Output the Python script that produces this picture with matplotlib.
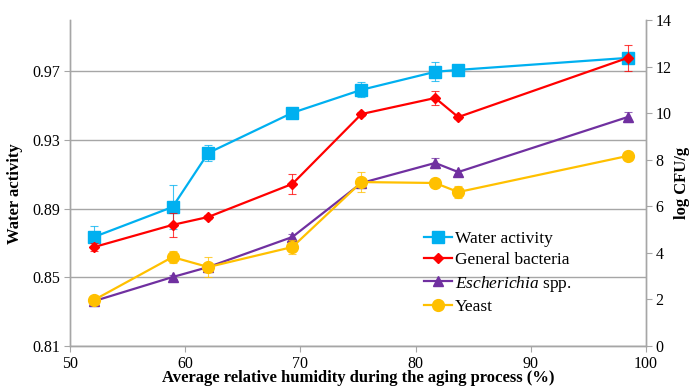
import numpy as np
import matplotlib
matplotlib.use("Agg")
import matplotlib.pyplot as plt

plt.rcParams['font.family'] = ['Liberation Serif', 'DejaVu Serif']
plt.rcParams['mathtext.fontset'] = 'custom'
plt.rcParams['mathtext.rm'] = 'Liberation Serif'
plt.rcParams['mathtext.it'] = 'Liberation Serif:italic'

# relative humidity during aging (%)
rh = np.array([52.1, 58.9, 62.0, 69.3, 75.3, 81.7, 83.7, 98.4])

# water activity (left axis)
aw = np.array([0.8736, 0.8910, 0.9225, 0.9459, 0.9593, 0.9698, 0.9709, 0.9779])
aw_err = np.array([0.0064, 0.0128, 0.0047, 0.0010, 0.0044, 0.0055, 0.0030, 0.0020])

# counts, log CFU/g (right axis)
bact = np.array([4.25, 5.20, 5.54, 6.96, 9.96, 10.65, 9.83, 12.37])
bact_err = np.array([0.17, 0.52, 0.08, 0.43, 0.08, 0.32, 0.08, 0.55])
esch = np.array([1.93, 2.96, 3.39, 4.68, 7.00, 7.86, 7.47, 9.83])
esch_err = np.array([0.05, 0.10, 0.10, 0.15, 0.10, 0.20, 0.10, 0.20])
yeast = np.array([1.98, 3.82, 3.39, 4.25, 7.04, 7.00, 6.61, 8.16])
yeast_err = np.array([0.05, 0.24, 0.42, 0.32, 0.43, 0.08, 0.26, 0.08])

c_aw = '#00B0F0'
c_bact = '#FF0000'
c_esch = '#7030A0'
c_yeast = '#FFC000'
grey = '#A6A6A6'

fig = plt.figure(figsize=(6.89, 3.90), dpi=100)
ax = fig.add_axes([0.1016, 0.1128, 0.836, 0.836])
ax2 = ax.twinx()

def series(a, y, e, col, mk, ms, label):
    a.errorbar(rh, y, yerr=e, fmt='none', ecolor=col, elinewidth=0.8,
               capsize=3, capthick=0.8, alpha=0.75)
    return a.plot(rh, y, color=col, marker=mk, markersize=ms, lw=1.6,
                  label=label)[0]

h1 = series(ax, aw, aw_err, c_aw, 's', 8, 'Water activity')
h2 = series(ax2, bact, bact_err, c_bact, 'D', 5, 'General bacteria')
h3 = series(ax2, esch, esch_err, c_esch, '^', 7, r'$\mathit{Escherichia}$ spp.')
h4 = series(ax2, yeast, yeast_err, c_yeast, 'o', 8.5, 'Yeast')

ax.set_xlim(50, 100)
ax.set_ylim(0.81, 1.0)
ax.set_yticks([0.81, 0.85, 0.89, 0.93, 0.97])
ax.set_xticks([50, 60, 70, 80, 90, 100])
ax2.set_ylim(0, 14)
ax2.set_yticks(np.arange(0, 15, 2))

ax.grid(axis='y', color=grey, lw=1.0)
ax.set_axisbelow(True)
for a in (ax, ax2):
    a.spines['top'].set_visible(False)
    for s in ('left', 'right', 'bottom'):
        a.spines[s].set_color(grey)
        a.spines[s].set_linewidth(1.0)
    a.tick_params(colors=grey, labelcolor='black', labelsize=11.5,
                  length=4, pad=3)

ax.set_ylabel('Water activity', fontsize=12, fontweight='bold')
ax.yaxis.set_label_coords(-0.082, 0.466)
ax2.set_ylabel('log CFU/g', fontsize=12, fontweight='bold')
ax2.yaxis.set_label_coords(1.049, 0.5)
ax.set_xlabel('Average relative humidity during the aging process (%)',
              fontsize=12, fontweight='bold', labelpad=-1)

ax2.legend(handles=[h1, h2, h3, h4], loc='upper left',
           bbox_to_anchor=(0.6, 0.38), frameon=False, fontsize=12.5,
           handlelength=1.6, handletextpad=0.15, labelspacing=0.3,
           borderpad=0)

fig.savefig('out.png', dpi=100)
